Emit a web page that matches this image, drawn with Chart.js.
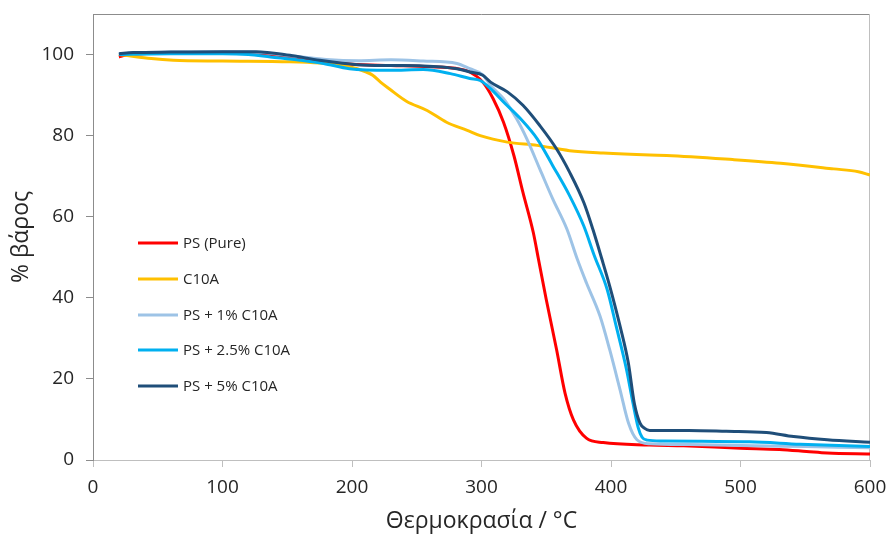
<!DOCTYPE html>
<html>
<head>
<meta charset="utf-8">
<script src="https://cdn.jsdelivr.net/npm/chart.js@4/dist/chart.umd.min.js"></script>
<style>
  html, body { margin: 0; padding: 0; background: #fff; }
  canvas { display: block; }
</style>
</head>
<body>
<canvas id="tga" width="888" height="535"></canvas>
<script>
// series names and colours (legend order)
const seriesNames = ["PS (Pure)", "C10A", "PS + 1% C10A", "PS + 2.5% C10A", "PS + 5% C10A"];
const seriesColors = ["#FF0000", "#FFC000", "#9DC3E6", "#00B0F0", "#1F4E79"];

// temperature (°C) and weight (%)
const tempPure = [20, 25, 50, 100, 130, 150, 175, 200, 230, 260, 280, 291, 301, 309, 317, 325, 332, 340, 344, 350, 358, 364.5, 371, 381, 394, 430, 456, 500, 530, 551, 567, 600];
const weightPure = [99.4, 99.8, 100.3, 100.4, 100.2, 99.6, 98.6, 97.6, 97.3, 97.0, 96.6, 95.7, 93.2, 89.1, 83.3, 75.1, 66, 56.1, 49.5, 39.6, 27.2, 16.5, 9.9, 5.4, 4.3, 3.7, 3.5, 2.9, 2.6, 2.1, 1.7, 1.5];

const tempC10A = [20, 25, 45, 62, 100, 152, 175, 191, 204, 210, 216, 222, 229, 242, 258, 273, 289, 299, 320, 343, 368, 394, 430, 443, 494, 531, 572, 591, 600];
const weightC10A = [100, 99.8, 99.0, 98.6, 98.4, 98.2, 97.9, 97.4, 96.5, 95.8, 94.9, 93.2, 91.5, 88.5, 86.2, 83.3, 81.3, 80, 78.4, 77.6, 76.3, 75.7, 75.2, 75.1, 74.1, 73.2, 71.8, 71.1, 70.3];

const temp1 = [20, 30, 60, 100, 130, 155, 180, 205, 230, 255, 281, 291, 301, 307, 317, 327, 335, 345, 355, 366, 374, 381, 391.5, 399, 407, 413.5, 420, 430, 460, 500, 550, 600];
const weight1 = [100, 100.4, 100.6, 100.7, 100.5, 99.6, 98.8, 98.5, 98.7, 98.4, 97.8, 96.5, 95.0, 92.4, 89.1, 84.2, 79.2, 71.8, 64.4, 56.9, 49.5, 43.7, 35.5, 27.2, 17.3, 9.1, 5.0, 4.0, 3.8, 3.6, 3.3, 3.0];

const temp25 = [20, 30, 60, 100, 120, 137, 160, 178, 198, 229, 255, 276, 291, 299, 307, 317, 330, 343, 355, 368, 379, 387, 397, 404, 412, 417, 421, 424, 428, 440, 470, 507, 546, 600];
const weight25 = [100, 100.1, 100.2, 100.2, 100, 99.4, 98.6, 97.8, 96.5, 96.1, 96.3, 95.3, 94.1, 93.6, 91.6, 88.3, 84.2, 79.2, 72.6, 65.2, 57.7, 50.5, 42.1, 33, 22.3, 14, 8, 5.6, 4.9, 4.7, 4.6, 4.5, 3.9, 3.3];

const temp5 = [20, 31, 60, 100, 126, 152, 175, 204, 230, 255, 281, 291, 301, 307, 320, 332, 345, 358, 368, 379, 386, 393, 399, 407, 413.4, 418, 422.4, 426, 430, 460, 489, 520, 541, 567, 600];
const weight5 = [100.2, 100.5, 100.6, 100.7, 100.7, 99.8, 98.6, 97.5, 97.3, 97.2, 96.5, 95.7, 94.9, 93.2, 90.8, 87.5, 82.5, 76.7, 71, 63.5, 56.9, 49.5, 42.9, 33, 23.9, 14, 9.1, 7.8, 7.3, 7.3, 7.1, 6.8, 5.8, 5.0, 4.4];

const xTicks = [0, 100, 200, 300, 400, 500, 600];
const yTicks = [0, 20, 40, 60, 80, 100];

const temps = [tempPure, tempC10A, temp1, temp25, temp5];
const weights = [weightPure, weightC10A, weight1, weight25, weight5];

function toPoints(ts, ws) {
  return ts.map((t, i) => ({ x: t, y: ws[i] }));
}

const datasets = seriesNames.map((name, i) => ({
  label: name,
  data: toPoints(temps[i], weights[i]),
  borderColor: seriesColors[i],
  backgroundColor: seriesColors[i],
  borderWidth: 3,
  pointRadius: 0,
  cubicInterpolationMode: "monotone",
  order: seriesNames.length - i, // last series on top, like the original
}));

// frame around the plot area (top and right sides too)
const framePlugin = {
  id: "frame",
  beforeDatasetsDraw(chart) {
    const { ctx, chartArea: a } = chart;
    ctx.save();
    ctx.lineWidth = 1;
    ctx.strokeStyle = "#8C8C8C";
    ctx.beginPath();
    ctx.moveTo(a.left + 0.5, a.bottom);
    ctx.lineTo(a.left + 0.5, a.top + 0.5);
    ctx.lineTo(a.right, a.top + 0.5);
    ctx.stroke();
    ctx.strokeStyle = "#BFBFBF";
    ctx.beginPath();
    ctx.moveTo(a.right - 0.5, a.top);
    ctx.lineTo(a.right - 0.5, a.bottom);
    ctx.stroke();
    ctx.restore();
  },
};

// legend sits inside the plot, left side
const insideLegend = {
  id: "insideLegend",
  afterDatasetsDraw(chart) {
    const ctx = chart.ctx;
    const rows = [243, 279, 315, 350, 386];
    ctx.save();
    ctx.font = "15px 'Open Sans'";
    ctx.textBaseline = "middle";
    ctx.fillStyle = "#262626";
    seriesNames.forEach((name, i) => {
      ctx.strokeStyle = seriesColors[i];
      ctx.lineWidth = 3;
      ctx.beginPath();
      ctx.moveTo(138, rows[i]);
      ctx.lineTo(178, rows[i]);
      ctx.stroke();
      ctx.fillText(name, 183, rows[i] + 1);
    });
    ctx.restore();
  },
};

new Chart(document.getElementById("tga"), {
  type: "line",
  data: { datasets },
  plugins: [framePlugin, insideLegend],
  options: {
    responsive: false,
    animation: false,
    devicePixelRatio: 1,
    layout: { padding: { top: 14, right: 18, left: 0, bottom: 0 } },
    plugins: { legend: { display: false }, tooltip: { enabled: false } },
    scales: {
      x: {
        type: "linear",
        min: 0,
        max: 600,
        afterBuildTicks: (axis) => { axis.ticks = xTicks.map((v) => ({ value: v })); },
        afterFit: (axis) => {
          axis.height = 75;
          axis.paddingLeft = 0;
          axis.paddingRight = 0;
        },
        grid: { display: true, drawOnChartArea: false, tickLength: 7, color: "#BFBFBF" },
        border: { color: "#BFBFBF" },
        ticks: { font: { family: "'Open Sans'", size: 19 }, color: "#262626", padding: 9, maxRotation: 0 },
        title: {
          display: true,
          text: "Θερμοκρασία / °C",
          font: { family: "'Open Sans'", size: 23 },
          color: "#262626",
          padding: { top: 0, bottom: 0 },
        },
      },
      y: {
        type: "linear",
        min: 0,
        max: 110,
        afterBuildTicks: (axis) => { axis.ticks = yTicks.map((v) => ({ value: v })); },
        afterFit: (axis) => {
          axis.width = 93;
          axis.paddingTop = 0;
          axis.paddingBottom = 0;
        },
        grid: { display: true, drawOnChartArea: false, tickLength: 7, color: "#8C8C8C" },
        border: { color: "#8C8C8C" },
        ticks: { font: { family: "'Open Sans'", size: 19 }, color: "#262626", padding: 12 },
        title: {
          display: true,
          text: "% βάρος",
          font: { family: "'Open Sans'", size: 23 },
          color: "#262626",
          padding: { top: 8, bottom: 0 },
        },
      },
    },
  },
});
</script>
</body>
</html>
